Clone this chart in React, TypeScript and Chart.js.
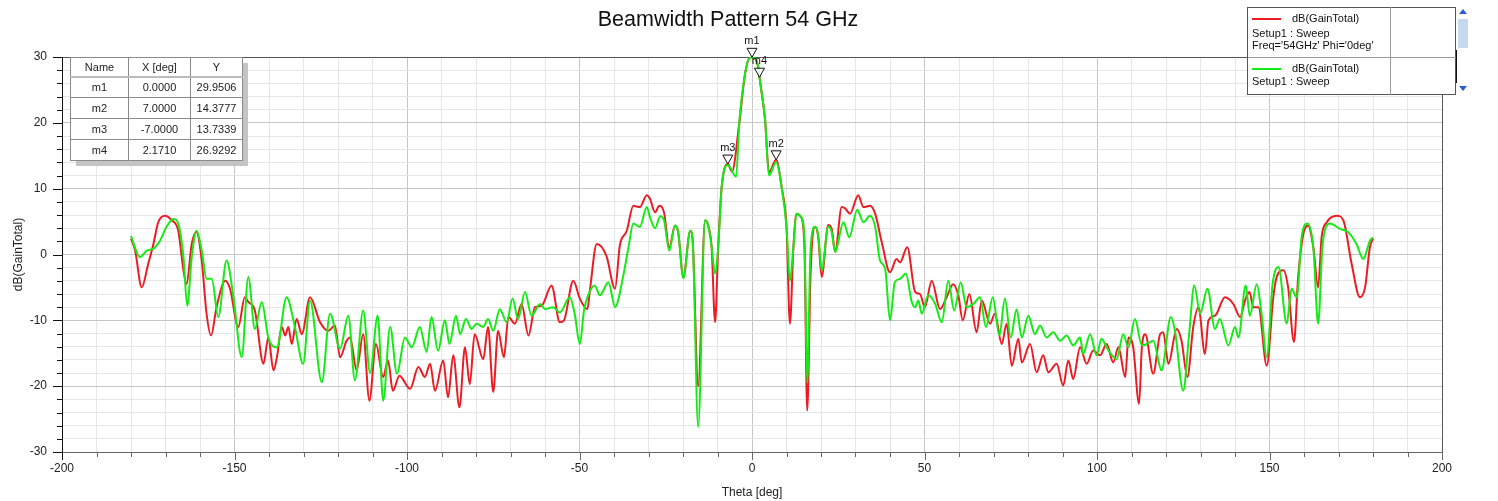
import React, { useEffect, useRef } from "react";
import { Chart, registerables } from "chart.js";

Chart.register(...registerables);

// ---------- data ----------
const redTheta = [
  -180, -178.8, -176.9, -175, -173.5, -172.1, -170.1, -168.2, -166.3, -164.8, -163.9, -162.4, -161, -159.5,
  -158.1, -156.8, -155.2, -152.7, -151.3, -148.9, -147, -146, -144.1, -141.6, -140.2, -138.7, -137.7, -136.3,
  -135.3, -134.4, -133.4, -132, -130.5, -128.1, -125.2, -122.8, -120.9, -119.4, -117.5, -116.5, -114.6, -112.7,
  -110.9, -109, -106.9, -105.5, -104.1, -102.2, -99.1, -96.7, -94.8, -93.3, -91.9, -89.5, -88.1, -86.6, -84.8,
  -83.2, -81.8, -80.4, -77.9, -76.5, -75, -73.6, -71.9, -70.6, -68.7, -66.8, -64.8, -62.9, -61, -58.1, -55.7,
  -54.5, -51.8, -49.9, -47.7, -47, -45, -42.2, -39.7, -38.3, -36.3, -34.4, -32.5, -30.5, -29.6, -28.1, -26.9,
  -25.5, -24, -22.3, -21.4, -19.9, -17.9, -17.2, -15.6, -13.6, -12.7, -11.7, -10.7, -9.8, -8.8, -7, -5.8, -3.7,
  -2, -0.6, 0, 1.8, 2.171, 3.8, 4.9, 7, 8.6, 10, 11, 12, 12.9, 14.2, 15.2, 16, 17, 18.3, 19.2, 20.2, 22.1, 23.1,
  24.1, 26, 27, 28.4, 30.8, 32.3, 34.2, 35.7, 37.6, 40, 41.9, 42.9, 45, 47.3, 48.7, 50.1, 52.1, 54.5, 56.4, 58.3,
  59.8, 61.1, 63, 65.1, 66.6, 69, 70.4, 72.4, 73.8, 75.3, 77.2, 78.2, 80.6, 82.5, 84.4, 85.9, 88.3, 90.2, 91.7,
  93.1, 95.1, 97, 98.9, 100.9, 102.8, 104.7, 106.2, 108.2, 109.1, 110.5, 112.2, 113, 114, 116.3, 118.3, 119.2,
  120.7, 123.1, 124.5, 126.2, 127.9, 129.4, 131.3, 132.3, 134.2, 137.1, 139.5, 141.5, 142.9, 144.2, 145.3, 146.8,
  149.2, 151.1, 152.1, 154, 155.4, 157.1, 158.3, 159.8, 161.2, 162.7, 164.1, 165.1, 166.6, 169.5, 171.4, 173.8,
  176.2, 177.7, 179.1, 180,
];
const redGain = [
  2.4, 0.6, -5.0, -1.4, 1.6, 4.9, 5.9, 5.2, 3.6, -2.4, -4.5, 1.6, 3.4, -0.9,
  -9.0, -12.3, -8.0, -4.0, -5.2, -11.0, -6.5, -7.2, -8.5, -16.6, -12.6, -17.6, -15.6, -11.0,
  -12.3, -11.0, -13.6, -9.8, -12.1, -6.5, -10.3, -11.6, -10.8, -15.6, -13.1, -12.6, -17.6, -12.1,
  -22.2, -13.6, -18.6, -16.1, -20.7, -18.4, -20.4, -17.1, -18.6, -16.6, -20.7, -16.1, -21.7, -15.3, -23.2,
  -14.1, -19.7, -12.1, -15.9, -11.0, -20.9, -11.6, -15.6, -9.5, -10.5, -7.5, -12.3, -8.0, -7.8, -4.7, -10.3,
  -10.0, -4.0, -6.7, -8.3, -5.5, 1.6, -0.2, -5.2, 1.4, 3.6, 7.4, 7.2, 9.0, 8.5, 6.4, 7.4,
  6.4, 1.1, 4.4, 3.4, -3.4, 3.6, 2.1, -20.0, 5.2, 4.4, 1.1, -10.3, 1.1, 10.2, 13.7339, 12.6, 19.9,
  27.5, 29.9, 29.9506, 28.5, 26.9292, 20.4, 12.5, 14.3777, 10.2, 4.2, -10.5, 1.1, 6.2, 5.7, 1.1, -23.7, -2.5, 4.2, 2.6, -3.4, 4.5, 3.9,
  0.4, 7.2, 7.0, 6.2, 9.0, 7.2, 7.4, 6.2, 1.9, -2.7, -0.7, -1.2, 1.1, -5.7, -6.0, -8.0, -4.0, -8.3, -6.5, -4.5,
  -6.2, -10.0, -6.0, -11.8, -7.0, -10.5, -9.0, -13.6, -10.5, -16.9, -12.8, -16.4, -13.6, -17.9, -15.3, -17.9, -16.6, -19.9, -16.1,
  -18.9, -14.1, -16.6, -14.6, -15.3, -13.6, -16.4, -14.1, -18.6, -12.6, -14.1, -22.7, -14.1, -12.1, -18.1, -12.1, -11.8,
  -16.6, -11.3, -13.1, -18.6, -11.0, -8.0, -15.1, -10.0, -9.3, -6.5, -7.5, -9.5, -7.0, -5.7, -8.0, -8.0,
  -16.9, -6.5, -3.4, -2.4, -5.0, -13.3, -3.4, 3.1, 4.4, 1.1, -5.0, 2.6, 4.9, 5.9, 5.2, -1.4,
  -6.5, -5.0, 1.1, 2.4,
];

const greenTheta = [
  -180, -177.4, -175.4, -173.5, -171.6, -169.7, -167.7, -166.3, -164.8, -163.7, -162.4, -161, -159.5, -158.1,
  -156.6, -154.7, -152.3, -150.3, -147.9, -146, -144.1, -142.1, -140.2, -137.7, -134.9, -132.5, -130.1, -128.1,
  -124.7, -122.3, -119.4, -117, -115.1, -112.7, -110.7, -108.5, -106.9, -104.9, -102.9, -100.6, -98.6, -96.3,
  -94.3, -92.9, -91, -89, -87.7, -85.8, -84.6, -82.9, -81.3, -79.8, -77.9, -76.5, -75, -73.1, -71.1, -69.4,
  -67.8, -65.8, -63.9, -61.4, -60, -57.6, -55.7, -52.8, -51.4, -49.9, -48.7, -47.5, -45.6, -44.1, -41.6, -39.7,
  -37.2, -35.8, -34.4, -32.5, -30.5, -29.6, -28.1, -26.6, -25.5, -24, -22.3, -21.4, -19.9, -17.9, -17.2, -15.6,
  -13.6, -12.7, -11.7, -10.7, -9.8, -8.8, -7, -4.6, -3.7, -2, -0.6, 0, 1.8, 2.171, 3.8, 4.9, 7, 8.6, 10, 11, 12,
  12.9, 14.2, 15.2, 16, 17, 18.3, 19.2, 20.2, 22.1, 23.1, 24.1, 26.5, 28.2, 30.5, 32.3, 34.2, 35.7, 37.1, 38.6,
  40, 41.4, 42.9, 44.6, 46.3, 47.3, 48.2, 49.2, 51.1, 53.1, 55, 56.9, 58.6, 60.5, 62.2, 64.2, 66.1, 67.8, 69.8,
  71.7, 73.3, 75, 76.7, 78.2, 80.1, 82, 83.5, 85.4, 87.3, 89.3, 91.2, 93.1, 95.1, 96, 98, 99.9, 101.3, 103,
  105.7, 107.6, 109.1, 111, 113, 114.4, 116.3, 118.7, 121.4, 122.6, 125, 126.7, 128.2, 129.9, 132, 134.2, 135.6,
  138.1, 140, 141, 143.1, 144.3, 146.3, 147.7, 149.2, 150.9, 152.6, 155, 156.4, 157.9, 159.3, 161, 162.7, 164.1,
  165.4, 167.5, 170.4, 172.8, 175.2, 177.2, 179.1, 180,
];
const greenGain = [
  2.8, -0.4, 0.6, 0.9, 2.1, 4.2, 5.4, 4.7, -0.4, -7.8, -0.4, 3.6, 0.6, -3.7,
  -3.7, -9.5, -0.9, -6.5, -15.6, -3.4, -11.3, -7.2, -12.6, -14.1, -6.5, -11.0, -16.6, -7.0,
  -19.4, -9.0, -14.3, -9.3, -19.1, -8.5, -18.0, -9.3, -22.2, -11.0, -18.1, -12.6, -14.1, -11.0,
  -14.8, -9.5, -14.6, -10.0, -13.6, -9.3, -12.1, -9.8, -11.3, -10.5, -11.0, -9.8, -11.6, -8.3, -10.3, -6.7,
  -9.8, -5.7, -9.3, -7.5, -8.3, -8.0, -8.8, -6.5, -9.0, -13.6, -8.5, -6.2, -4.7, -6.2, -4.2, -8.0,
  -2.9, 1.1, 4.7, 4.2, 7.2, 5.7, 4.0, 5.8, 5.2, 0.6, 4.4, 3.4, -3.6, 3.6, 2.1, -26.2,
  5.2, 4.4, 1.1, -2.9, 1.1, 10.2, 13.6, 11.8, 19.9, 27.5, 29.9, 29.9506, 28.5, 26.9292, 20.4, 12.0, 14.0, 10.2, 4.2, -4.0, 1.1,
  6.2, 5.7, 2.5, -19.5, 1.1, 4.2, 2.9, -2.4, 4.2, 3.4, 0.4, 4.9, 2.6, 6.8, 4.9, 5.9, 4.2, -0.9, -2.2,
  -10.0, -4.2, -3.7, -2.9, -7.2, -8.0, -7.0, -9.0, -6.2, -7.5, -10.3, -4.0, -8.5, -4.2, -8.0, -7.5, -6.5, -11.0, -6.5,
  -12.3, -6.7, -12.6, -8.3, -12.6, -9.3, -12.1, -10.8, -12.6, -11.8, -13.1, -12.3, -13.8, -12.6, -15.1, -12.1, -15.3, -12.8, -14.3,
  -15.9, -12.1, -14.1, -9.8, -13.8, -13.6, -13.1, -17.6, -9.5, -11.6, -20.7, -12.1, -4.7, -9.0, -5.2, -11.3, -9.8,
  -13.8, -11.0, -12.6, -4.7, -9.3, -4.5, -9.0, -15.6, -4.5, -1.9, -10.5, -5.2, -6.5, 2.6, 4.7, 1.1, -10.5,
  1.6, 4.7, 3.9, 3.4, 1.6, -0.7, 2.1, 2.6,
];

const markerNames = ["m1", "m2", "m3", "m4"];
const markerTheta = [0, 7, -7, 2.171];
const markerGain = [29.9506, 14.3777, 13.7339, 26.9292];
const markerXText = ["0.0000", "7.0000", "-7.0000", "2.1710"];
const markerYText = ["29.9506", "14.3777", "13.7339", "26.9292"];

const xMin = -200, xMax = 200, xStep = 10, xLabelEvery = 50;
const yMin = -30, yMax = 30, yStep = 2, yLabelEvery = 10;

const RED = "rgb(236,28,36)";
const GREEN = "rgb(20,235,20)";
const FONT = '"Liberation Sans", Arial, Helvetica, sans-serif';

const zip = (xs: number[], ys: number[]) => xs.map((x, i) => ({ x, y: ys[i] }));
const isMul = (v: number, m: number) => Math.abs(Math.round(v)) % m === 0;

const framePlugin = {
  id: "frameTicks",
  beforeDatasetsDraw(chart: any) {
    const { ctx, chartArea: a, scales } = chart;
    const x = scales.x, y = scales.y;
    ctx.save();
    ctx.lineWidth = 1;
    ctx.strokeStyle = "#555";
    ctx.beginPath();
    ctx.moveTo(a.left, Math.round(a.top) + 0.5);
    ctx.lineTo(a.right + 0.5, Math.round(a.top) + 0.5);
    ctx.moveTo(Math.round(a.right) + 0.5, a.top);
    ctx.lineTo(Math.round(a.right) + 0.5, a.bottom);
    ctx.stroke();
    ctx.strokeStyle = "#666";
    ctx.beginPath();
    ctx.moveTo(a.left, Math.round(a.bottom) + 0.5);
    ctx.lineTo(a.right + 1, Math.round(a.bottom) + 0.5);
    x.ticks.forEach((t: any) => {
      const px = Math.round(x.getPixelForValue(t.value)) + 0.5;
      const len = isMul(t.value, xLabelEvery) ? 8 : 5;
      ctx.moveTo(px, a.bottom);
      ctx.lineTo(px, a.bottom + len);
    });
    ctx.stroke();
    ctx.strokeStyle = "#111";
    ctx.beginPath();
    ctx.moveTo(Math.round(a.left) + 0.5, a.top);
    ctx.lineTo(Math.round(a.left) + 0.5, a.bottom + 8);
    y.ticks.forEach((t: any) => {
      const py = Math.round(y.getPixelForValue(t.value)) + 0.5;
      const len = isMul(t.value, yLabelEvery) ? 9 : 5;
      ctx.moveTo(a.left, py);
      ctx.lineTo(a.left - len, py);
    });
    ctx.stroke();
    ctx.restore();
  },
};

const markerPlugin = {
  id: "markers",
  afterDatasetsDraw(chart: any) {
    const { ctx, scales } = chart;
    const x = scales.x, y = scales.y;
    ctx.save();
    ctx.font = `11px ${FONT}`;
    ctx.textAlign = "center";
    ctx.textBaseline = "middle";
    markerNames.forEach((name, i) => {
      const px = x.getPixelForValue(markerTheta[i]);
      const py = y.getPixelForValue(markerGain[i]);
      ctx.beginPath();
      ctx.moveTo(px, py);
      ctx.lineTo(px - 5, py - 9);
      ctx.lineTo(px + 5, py - 9);
      ctx.closePath();
      ctx.fillStyle = "rgba(255,255,255,0.85)";
      ctx.fill();
      ctx.strokeStyle = "#111";
      ctx.lineWidth = 1;
      ctx.stroke();
      ctx.fillStyle = "#111";
      ctx.fillText(name, px, py - 16);
    });
    ctx.restore();
  },
};

export default function App() {
  const ref = useRef<HTMLCanvasElement | null>(null);

  useEffect(() => {
    document.body.style.margin = "0";
    if (!ref.current) return;
    const tickFont = { family: FONT, size: 12 };
    const chart = new Chart(ref.current, {
      type: "line",
      data: {
        datasets: [
          {
            label: "dB(GainTotal) green",
            data: zip(greenTheta, greenGain),
            borderColor: GREEN,
            backgroundColor: GREEN,
            borderWidth: 2,
            pointRadius: 0,
            cubicInterpolationMode: "monotone",
          },
          {
            label: "dB(GainTotal) red",
            data: zip(redTheta, redGain),
            borderColor: RED,
            backgroundColor: RED,
            borderWidth: 2,
            pointRadius: 0,
            cubicInterpolationMode: "monotone",
          },
        ],
      },
      options: {
        responsive: false,
        animation: false,
        events: [],
        layout: { padding: { top: 57, right: 56, left: 0, bottom: 0 } },
        plugins: { legend: { display: false }, tooltip: { enabled: false }, title: { display: false } },
        scales: {
          x: {
            type: "linear",
            min: xMin,
            max: xMax,
            afterFit: (s: any) => {
              s.height = 49;
            },
            ticks: {
              stepSize: xStep,
              autoSkip: false,
              maxRotation: 0,
              padding: 9,
              font: tickFont,
              color: "#222",
              callback: (v: any) => (isMul(Number(v), xLabelEvery) ? String(v) : ""),
            },
            grid: {
              drawTicks: false,
              color: (c: any) => (isMul(c.tick.value, xLabelEvery) ? "#c6c6c6" : "#e6e6e6"),
            },
            border: { display: false },
            title: {
              display: true,
              text: "Theta [deg]",
              font: tickFont,
              color: "#222",
              padding: { top: 0, bottom: 1 },
            },
          },
          y: {
            type: "linear",
            min: yMin,
            max: yMax,
            afterFit: (s: any) => {
              s.width = 62;
            },
            ticks: {
              stepSize: yStep,
              autoSkip: false,
              padding: 15,
              font: tickFont,
              color: "#222",
              callback: (v: any) => (isMul(Number(v), yLabelEvery) ? String(v) : ""),
            },
            grid: {
              drawTicks: false,
              color: (c: any) => (isMul(c.tick.value, yLabelEvery) ? "#c6c6c6" : "#e6e6e6"),
            },
            border: { display: false },
            title: {
              display: true,
              text: "dB(GainTotal)",
              font: tickFont,
              color: "#222",
              padding: { top: 11, bottom: 0 },
            },
          },
        },
      },
      plugins: [framePlugin, markerPlugin],
    } as any);
    return () => chart.destroy();
  }, []);

  const abs = (s: React.CSSProperties): React.CSSProperties => ({ position: "absolute", ...s });
  const txt: React.CSSProperties = { font: `11px ${FONT}`, color: "#111", whiteSpace: "nowrap", lineHeight: "13px" };
  const cell: React.CSSProperties = { border: "1px solid #8a8a8a", textAlign: "center", padding: 0, font: `11px ${FONT}`, color: "#222" };

  return (
    <div style={{ position: "relative", width: 1498, height: 501, background: "#fff", overflow: "hidden" }}>
      <canvas ref={ref} width={1498} height={501} style={{ position: "absolute", left: 0, top: 0 }} />

      <div style={abs({ left: 478, top: 5, width: 500, textAlign: "center", font: `21.5px ${FONT}`, color: "#111", lineHeight: "28px" })}>
        Beamwidth Pattern 54 GHz
      </div>

      {/* marker table */}
      <div style={abs({ left: 70, top: 57, width: 172, height: 103, background: "#fff", boxShadow: "6px 6px 0 #c4c4c4" })}>
        <table style={{ borderCollapse: "collapse", width: 172, height: 103, tableLayout: "fixed", border: "1px solid #555" }}>
          <colgroup>
            <col style={{ width: 58 }} />
            <col style={{ width: 62 }} />
            <col style={{ width: 52 }} />
          </colgroup>
          <tbody>
            <tr style={{ height: 19 }}>
              <td style={{ ...cell, borderBottom: "2px solid #bbb" }}>Name</td>
              <td style={{ ...cell, borderBottom: "2px solid #bbb" }}>X [deg]</td>
              <td style={{ ...cell, borderBottom: "2px solid #bbb" }}>Y</td>
            </tr>
            {markerNames.map((n, i) => (
              <tr key={n} style={{ height: 21 }}>
                <td style={cell}>{n}</td>
                <td style={cell}>{markerXText[i]}</td>
                <td style={cell}>{markerYText[i]}</td>
              </tr>
            ))}
          </tbody>
        </table>
      </div>

      {/* legend */}
      <div style={abs({ left: 1247, top: 7, width: 209, height: 88, background: "#fff", border: "1px solid #555", boxSizing: "border-box" })} />
      <div style={abs({ left: 1390, top: 7, width: 1, height: 88, background: "#999" })} />
      <div style={abs({ left: 1248, top: 57, width: 208, height: 1, background: "#999" })} />
      <div style={abs({ left: 1252, top: 18, width: 29, height: 2, background: RED })} />
      <div style={abs({ ...txt, left: 1292, top: 12 })}>dB(GainTotal)</div>
      <div style={abs({ ...txt, left: 1252, top: 27 })}>Setup1 : Sweep</div>
      <div style={abs({ ...txt, left: 1252, top: 39 })}>Freq='54GHz' Phi='0deg'</div>
      <div style={abs({ left: 1252, top: 68, width: 29, height: 2, background: GREEN })} />
      <div style={abs({ ...txt, left: 1292, top: 62 })}>dB(GainTotal)</div>
      <div style={abs({ ...txt, left: 1252, top: 75 })}>Setup1 : Sweep</div>

      {/* scrollbar */}
      <div style={abs({ left: 1457, top: 6, width: 11, height: 90, background: "#fff" })} />
      <div style={abs({ left: 1458, top: 19, width: 10, height: 29, background: "#c5d9f1" })} />
      <div style={abs({ left: 1456, top: 50, width: 1, height: 33, background: "#111" })} />
      <div style={abs({ left: 1459, top: 9, width: 0, height: 0, borderLeft: "4px solid transparent", borderRight: "4px solid transparent", borderBottom: "5px solid #2a5bd7" })} />
      <div style={abs({ left: 1459, top: 86, width: 0, height: 0, borderLeft: "4px solid transparent", borderRight: "4px solid transparent", borderTop: "5px solid #2a5bd7" })} />
    </div>
  );
}
